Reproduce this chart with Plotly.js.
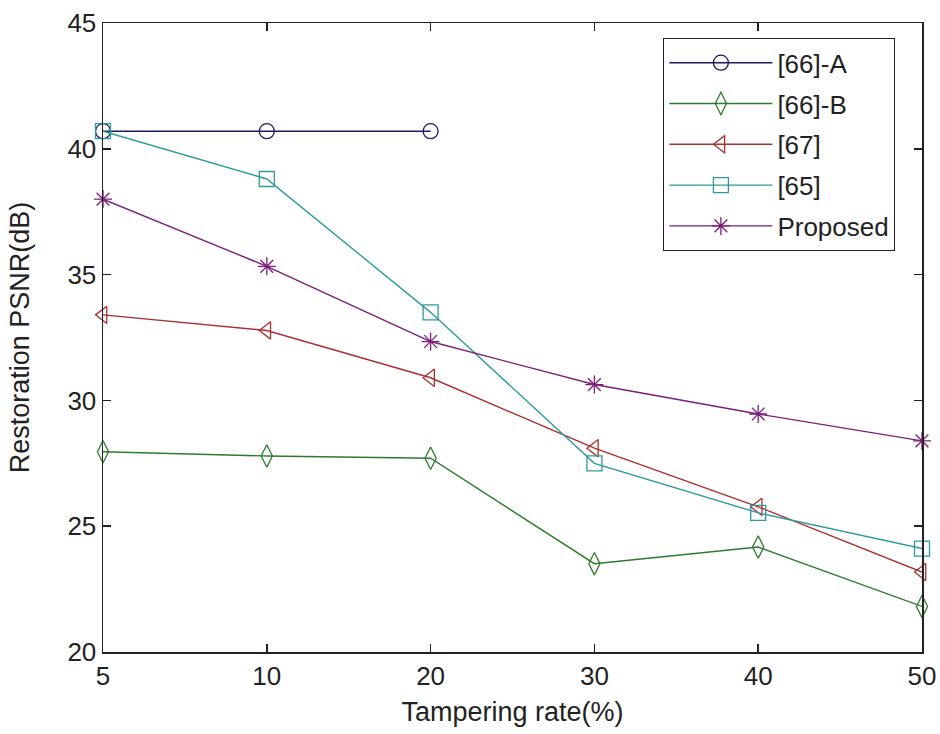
<!DOCTYPE html>
<html>
<head>
<meta charset="utf-8">
<script src="https://cdn.plot.ly/plotly-3.0.1.min.js"></script>
<style>html,body{margin:0;padding:0;background:#fff;}#chart{width:940px;height:734px;}</style>
</head>
<body>
<div id="chart"></div>
<script>
const rates = ['5', '10', '20', '30', '40', '50'];
const ratesA = ['5', '10', '20'];
const seriesNames = ['[66]-A', '[66]-B', '[67]', '[65]', 'Proposed'];
const psnr66A = [40.7, 40.7, 40.7];
const psnr66B = [27.96, 27.79, 27.7, 23.51, 24.17, 21.81];
const psnr67 = [33.4, 32.78, 30.9, 28.1, 25.77, 23.18];
const psnr65 = [40.7, 38.8, 33.5, 27.5, 25.53, 24.11];
const psnrProposed = [38.0, 35.33, 32.34, 30.63, 29.46, 28.39];

const colors = ['#1c1c5c', '#2f7a2f', '#a83232', '#2f9a9a', '#7a1f7a'];
const symbols = ['circle-open', 'diamond-tall-open', 'triangle-left-open', 'square-open', 'asterisk-open'];
const xs = [ratesA, rates, rates, rates, rates];
const ys = [psnr66A, psnr66B, psnr67, psnr65, psnrProposed];

const traces = seriesNames.map((n, i) => ({
  type: 'scatter', mode: 'lines+markers', name: n,
  x: xs[i], y: ys[i], legendgroup: 'g' + i, cliponaxis: false,
  line: {color: colors[i], width: 1.4},
  marker: {symbol: symbols[i], size: i === 1 ? 16 : 15, color: colors[i], line: {color: colors[i], width: 1.3}}
}));

const font = {family: '"Liberation Sans", Arial, sans-serif', color: '#222'};
const layout = {
  width: 940, height: 734,
  margin: {l: 103, r: 18, t: 23, b: 82},
  paper_bgcolor: '#fff', plot_bgcolor: '#fff',
  font: Object.assign({size: 27}, font),
  showlegend: true,
  legend: {
    x: 0.684, y: 0.976, xanchor: 'left', yanchor: 'top',
    bordercolor: '#222', borderwidth: 1.2, bgcolor: '#fff',
    font: Object.assign({size: 26}, font),
    itemwidth: 103, tracegroupgap: 4
  },
  xaxis: {
    type: 'category', range: [0, 5], automargin: false,
    showline: true, mirror: 'ticks', linecolor: '#222', linewidth: 1.5,
    ticks: 'inside', ticklen: 8, tickcolor: '#222', tickwidth: 1.5,
    showgrid: false, zeroline: false,
    tickfont: Object.assign({size: 26}, font),
    title: {text: 'Tampering rate(%)', font: Object.assign({size: 27}, font), standoff: 12}
  },
  yaxis: {
    range: [20, 45], tickvals: [20, 25, 30, 35, 40, 45], automargin: false,
    showline: true, mirror: 'ticks', linecolor: '#222', linewidth: 1.5,
    ticks: 'inside', ticklen: 8, tickcolor: '#222', tickwidth: 1.5,
    showgrid: false, zeroline: false,
    tickfont: Object.assign({size: 26}, font),
    title: {text: 'Restoration PSNR(dB)', font: Object.assign({size: 27}, font), standoff: 30}
  }
};

Plotly.newPlot('chart', traces, layout, {displayModeBar: false, staticPlot: true});
</script>
</body>
</html>
